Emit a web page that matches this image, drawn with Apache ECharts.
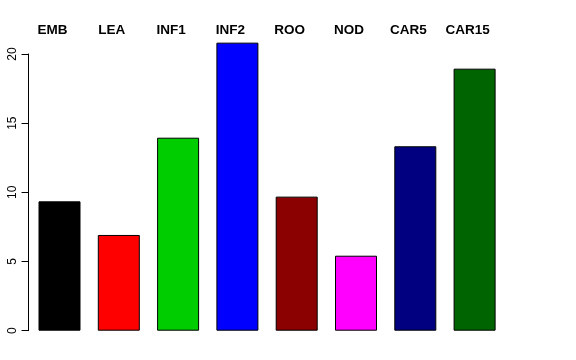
<!DOCTYPE html>
<html><head><meta charset="utf-8">
<script src="https://cdn.jsdelivr.net/npm/echarts@6/dist/echarts.min.js"></script>
<style>html,body{margin:0;padding:0;background:#fff}#c{width:576px;height:360px}</style>
</head><body><div id="c"></div>
<script>
const categories = ['EMB','LEA','INF1','INF2','ROO','NOD','CAR5','CAR15'];
const values = [9.35, 6.92, 13.95, 20.82, 9.69, 5.42, 13.33, 18.94];
const colors = ['#000000','#FF0000','#00CD00','#0000FF','#8B0000','#FF00FF','#000080','#006400'];
const yTicks = [0, 5, 10, 15, 20];

const chart = echarts.init(document.getElementById('c'), null, {renderer:'canvas'});
chart.setOption({
  animation: false,
  backgroundColor: '#ffffff',
  grid: {left: 29.85, width: 474.4, top: 54, bottom: 29.3, containLabel: false},
  xAxis: {
    type: 'category', data: categories, position: 'top',
    axisLine: {show: false}, axisTick: {show: false},
    axisLabel: {
      color: '#000', fontFamily: 'Liberation Sans, Arial, sans-serif', fontWeight: 'bold',
      fontSize: 13.5, margin: 17, padding: [0, 14, 0, 0], interval: 0
    }
  },
  yAxis: {
    type: 'value', min: yTicks[0], max: yTicks[yTicks.length-1], interval: 5, offset: 1.3,
    splitLine: {show: false},
    axisLine: {show: true, lineStyle: {color: '#000', width: 1}},
    axisTick: {show: true, length: 7, lineStyle: {color: '#000'}},
    axisLabel: {
      rotate: 90, color: '#000', fontFamily: 'Liberation Sans, Arial, sans-serif',
      fontSize: 12, margin: 10,
      formatter: v => yTicks.includes(v) ? String(v) : ''
    }
  },
  series: [{
    type: 'bar', clip: false, barWidth: 42,
    data: values.map((v, i) => ({value: v, itemStyle: {color: colors[i]}})),
    itemStyle: {borderColor: '#000', borderWidth: 1}
  }]
});
</script></body></html>
